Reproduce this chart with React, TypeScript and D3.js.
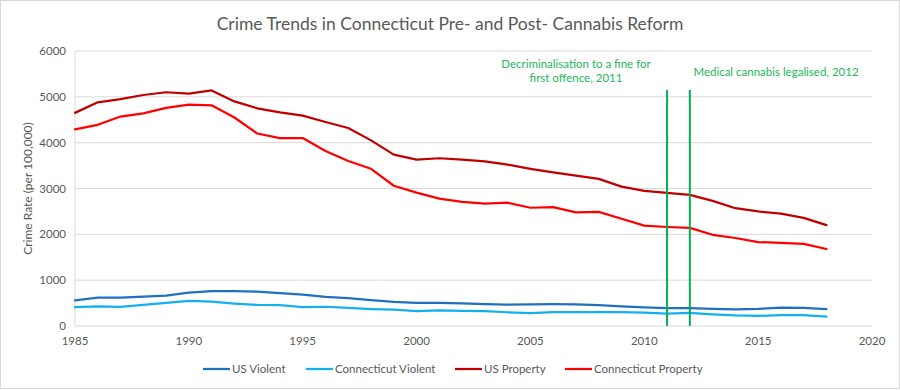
import React from 'react';
import * as d3 from 'd3';

// years and series (crimes per 100,000)
const years = d3.range(1985, 2019);

const usViolent = [560, 620, 620, 640, 665, 730, 760, 760, 750, 715, 685, 635, 610, 565, 525, 505, 505, 495, 475, 465, 470, 475, 470, 455, 430, 405, 390, 390, 375, 365, 375, 400, 395, 370];
const ctViolent = [410, 430, 415, 460, 505, 550, 530, 490, 460, 455, 410, 420, 395, 370, 355, 325, 340, 330, 325, 300, 280, 305, 305, 305, 305, 290, 270, 285, 255, 230, 220, 235, 235, 205];
const usProperty = [4650, 4880, 4950, 5040, 5100, 5070, 5140, 4900, 4750, 4660, 4590, 4450, 4320, 4050, 3740, 3630, 3660, 3630, 3590, 3520, 3430, 3350, 3280, 3210, 3040, 2950, 2905, 2860, 2730, 2570, 2500, 2450, 2360, 2200];
const ctProperty = [4290, 4390, 4570, 4640, 4760, 4830, 4815, 4550, 4200, 4100, 4100, 3820, 3600, 3430, 3060, 2910, 2780, 2710, 2670, 2690, 2580, 2595, 2480, 2490, 2340, 2190, 2160, 2140, 1990, 1920, 1830, 1815, 1790, 1680];

const seriesNames = ['US Violent', 'Connecticut Violent', 'US Property', 'Connecticut Property'];
const seriesColors = ['#1f70c1', '#14aff0', '#c00000', '#ff0000'];
const seriesValues = [usViolent, ctViolent, usProperty, ctProperty];

const yTicks = [0, 1000, 2000, 3000, 4000, 5000, 6000];
const xTicks = [1985, 1990, 1995, 2000, 2005, 2010, 2015, 2020];

// reform markers
const markerYears = [2011, 2012];
const markerTop = 5150;

const font = 'Lato, "Open Sans", sans-serif';
const grey = '#595959';
const green = '#00b050';

export default function App() {
    const width = 900;
    const height = 390;

    const x = d3.scaleLinear().domain([1985, 2020]).range([75, 872]);
    const y = d3.scaleLinear().domain([0, 6000]).range([326, 51]);

    const line = d3.line<number>()
        .x((d, i) => x(years[i]))
        .y(d => y(d));

    // legend layout: line swatch + label
    const legendX = [203, 306, 455, 565];

    return (
        <svg width={width} height={height} style={{ position: 'absolute', left: 0, top: 0 }} fontFamily={font}>
            <rect x={0.5} y={0.5} width={width - 1} height={height - 2} fill="white" stroke="#d9d9d9" />

            {/* title */}
            <text x={450} y={30} textAnchor="middle" fontSize={17.5} fill={grey}>
                Crime Trends in Connecticut Pre- and Post- Cannabis Reform
            </text>

            {/* gridlines */}
            {yTicks.map(t => (
                <line key={t} x1={x(1985)} x2={x(2020)} y1={y(t)} y2={y(t)} stroke="#d9d9d9" strokeWidth={1} />
            ))}
            <line x1={x(1985)} x2={x(1985)} y1={y(0)} y2={y(6000)} stroke="#d9d9d9" />

            {/* y tick labels */}
            {yTicks.map(t => (
                <text key={t} x={66} y={y(t) + 4} textAnchor="end" fontSize={11.5} fill={grey}>{t}</text>
            ))}
            {/* x tick labels */}
            {xTicks.map(t => (
                <text key={t} x={x(t)} y={345} textAnchor="middle" fontSize={11.5} fill={grey}>{t}</text>
            ))}

            <text transform={`translate(32,${(y(0) + y(6000)) / 2}) rotate(-90)`} textAnchor="middle" fontSize={12} fill={grey}>
                Crime Rate (per 100,000)
            </text>

            {/* series */}
            {seriesValues.map((vals, i) => (
                <path key={seriesNames[i]} d={line(vals) || ''} fill="none" stroke={seriesColors[i]} strokeWidth={2.25} strokeLinejoin="round" strokeLinecap="round" />
            ))}

            {/* reform markers */}
            {markerYears.map(yr => (
                <line key={yr} x1={x(yr)} x2={x(yr)} y1={y(0)} y2={y(markerTop)} stroke={green} strokeWidth={2} />
            ))}
            <text x={576} y={68} textAnchor="middle" fontSize={11.5} fill="#22b85a">Decriminalisation to a fine for</text>
            <text x={576} y={82} textAnchor="middle" fontSize={11.5} fill="#22b85a">first offence, 2011</text>
            <text x={776} y={76} textAnchor="middle" fontSize={11.5} fill="#22b85a">Medical cannabis legalised, 2012</text>

            {/* legend */}
            {seriesNames.map((name, i) => (
                <g key={name} transform={`translate(${legendX[i]},369)`}>
                    <line x1={0} x2={27} y1={0} y2={0} stroke={seriesColors[i]} strokeWidth={2.25} />
                    <text x={29} y={4} fontSize={11.5} fill={grey}>{name}</text>
                </g>
            ))}
        </svg>
    );
}
